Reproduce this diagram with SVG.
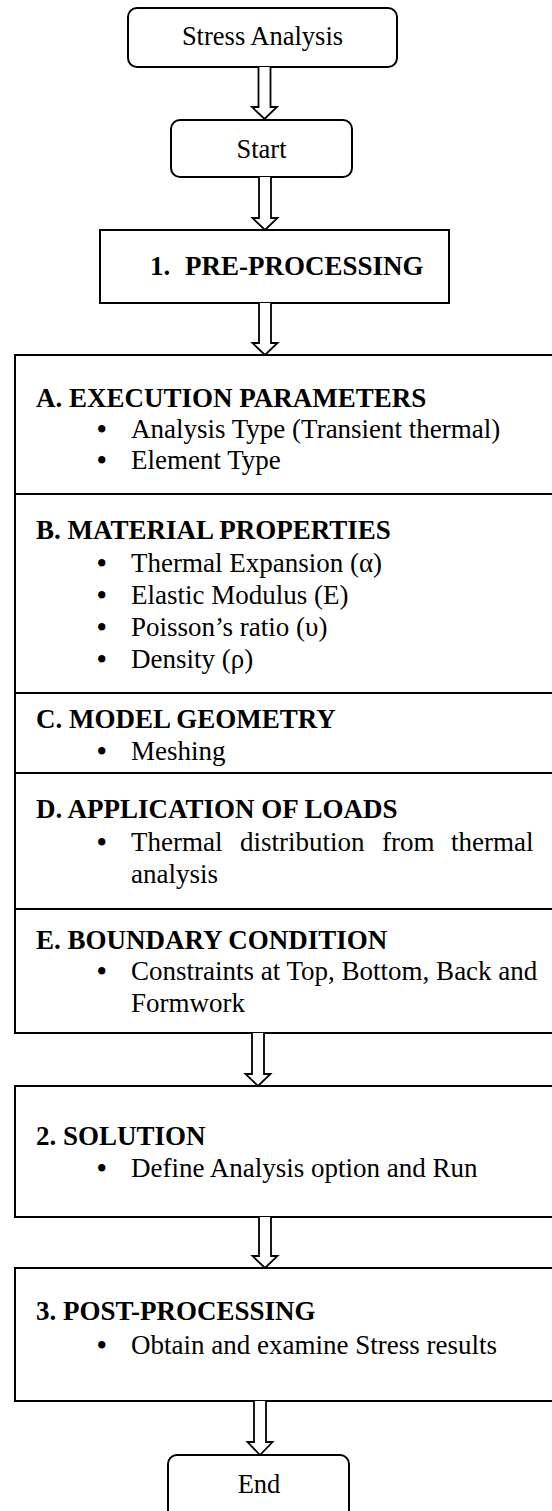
<svg xmlns="http://www.w3.org/2000/svg" width="552" height="1511" viewBox="0 0 552 1511">
<style>
  .box { fill: #fff; stroke: #000; stroke-width: 2; }
  .div { stroke: #000; stroke-width: 2; }
  .t { font-family: "Liberation Serif", "Times New Roman", serif; font-size: 26.5px; fill: #000; }
  .b { font-family: "Liberation Serif", "Times New Roman", serif; font-size: 27px; font-weight: bold; fill: #000; }
  .body { font-family: "Liberation Serif", "Times New Roman", serif; font-size: 27px; fill: #000; }
  .bul { font-weight: bold; }
  .arrow { fill: #fff; stroke: #000; stroke-width: 1.8; stroke-linejoin: miter; }
</style>
<rect width="552" height="1511" fill="#fff"/>

<g id="node-stress-analysis">
  <rect class="box" x="128" y="8" width="269" height="59" rx="9"/>
  <text class="t" x="262.5" y="45" text-anchor="middle">Stress Analysis</text>
</g>

<g id="node-start">
  <rect class="box" x="171" y="120" width="181" height="57" rx="9"/>
  <text class="t" x="261.5" y="158" text-anchor="middle">Start</text>
</g>

<g id="node-pre-processing">
  <rect class="box" x="100" y="230" width="349" height="73"/>
  <text class="b" x="150" y="275">1.</text>
  <text class="b" x="185" y="275">PRE-PROCESSING</text>
</g>

<g id="node-pre-processing-details">
  <rect class="box" x="15" y="355" width="560" height="678"/>
  <line class="div" x1="15" y1="494" x2="552" y2="494"/>
  <line class="div" x1="15" y1="693" x2="552" y2="693"/>
  <line class="div" x1="15" y1="773" x2="552" y2="773"/>
  <line class="div" x1="15" y1="909" x2="552" y2="909"/>

  <text class="b" x="36" y="407">A. EXECUTION PARAMETERS</text>
  <text class="body" y="438"><tspan class="bul" x="97">•</tspan><tspan x="131">Analysis Type (Transient thermal)</tspan></text>
  <text class="body" y="469"><tspan class="bul" x="97">•</tspan><tspan x="131">Element Type</tspan></text>

  <text class="b" x="36" y="539">B. MATERIAL PROPERTIES</text>
  <text class="body" y="572"><tspan class="bul" x="97">•</tspan><tspan x="131">Thermal Expansion (α)</tspan></text>
  <text class="body" y="604"><tspan class="bul" x="97">•</tspan><tspan x="131">Elastic Modulus (E)</tspan></text>
  <text class="body" y="636"><tspan class="bul" x="97">•</tspan><tspan x="131">Poisson’s ratio (υ)</tspan></text>
  <text class="body" y="668"><tspan class="bul" x="97">•</tspan><tspan x="131">Density (ρ)</tspan></text>

  <text class="b" x="36" y="728">C. MODEL GEOMETRY</text>
  <text class="body" y="760"><tspan class="bul" x="97">•</tspan><tspan x="131">Meshing</tspan></text>

  <text class="b" x="36" y="818">D. APPLICATION OF LOADS</text>
  <text class="body" y="851"><tspan class="bul" x="97">•</tspan><tspan x="131">Thermal</tspan><tspan x="240">distribution</tspan><tspan x="382">from</tspan><tspan x="451">thermal</tspan></text>
  <text class="body" x="131" y="883">analysis</text>

  <text class="b" x="36" y="949">E. BOUNDARY CONDITION</text>
  <text class="body" y="980"><tspan class="bul" x="97">•</tspan><tspan x="131">Constraints at Top, Bottom, Back and</tspan></text>
  <text class="body" x="131" y="1012">Formwork</text>
</g>

<g id="node-solution">
  <rect class="box" x="15" y="1086" width="560" height="131"/>
  <text class="b" x="36" y="1145">2. SOLUTION</text>
  <text class="body" y="1177"><tspan class="bul" x="97">•</tspan><tspan x="131">Define Analysis option and Run</tspan></text>
</g>

<g id="node-post-processing">
  <rect class="box" x="15" y="1268" width="560" height="133"/>
  <text class="b" x="36" y="1320">3. POST-PROCESSING</text>
  <text class="body" y="1354"><tspan class="bul" x="97">•</tspan><tspan x="131">Obtain and examine Stress results</tspan></text>
</g>

<g id="node-end">
  <rect class="box" x="168" y="1455" width="181" height="70" rx="9"/>
  <text class="t" x="259" y="1493" text-anchor="middle">End</text>
</g>

<g id="connectors">
  <path class="arrow" d="M258.5,67 L258.5,107 L252,107 L264.5,119 L277,107 L270.5,107 L270.5,67"/>
  <path class="arrow" d="M259,177 L259,218 L252.5,218 L265,230 L277.5,218 L271,218 L271,177"/>
  <path class="arrow" d="M259,303 L259,343 L252.5,343 L265,355 L277.5,343 L271,343 L271,303"/>
  <path class="arrow" d="M252,1033 L252,1074 L245.5,1074 L258,1086 L270.5,1074 L264,1074 L264,1033"/>
  <path class="arrow" d="M259,1217 L259,1256 L252.5,1256 L265,1268 L277.5,1256 L271,1256 L271,1217"/>
  <path class="arrow" d="M254,1401 L254,1442 L247.5,1442 L260,1455 L272.5,1442 L266,1442 L266,1401"/>
</g>
</svg>
